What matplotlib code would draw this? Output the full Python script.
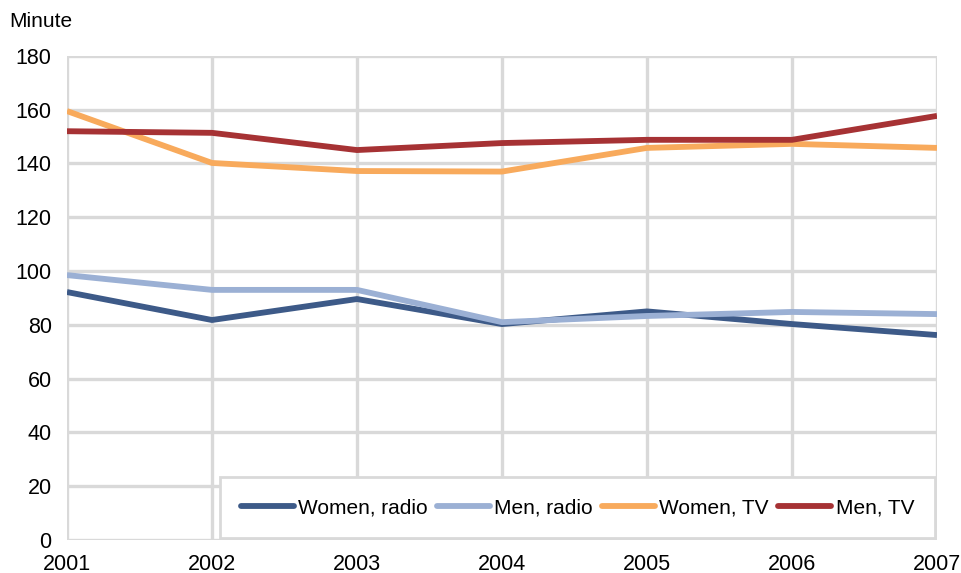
import matplotlib.pyplot as plt

plt.rcParams['font.family'] = ['Liberation Sans', 'DejaVu Sans']

years = [2001, 2002, 2003, 2004, 2005, 2006, 2007]
women_radio = [92.2, 81.8, 89.6, 80.3, 85.0, 80.3, 76.2]
men_radio = [98.5, 93.0, 93.0, 81.0, 83.3, 84.8, 84.0]
women_tv = [159.5, 140.2, 137.2, 137.0, 145.8, 147.3, 145.8]
men_tv = [152.0, 151.4, 145.0, 147.6, 148.8, 148.8, 157.7]

series = [
    ('Women, radio', women_radio, '#3d5a88'),
    ('Men, radio', men_radio, '#9bb0d4'),
    ('Women, TV', women_tv, '#f8aa5c'),
    ('Men, TV', men_tv, '#a63234'),
]

fig = plt.figure(figsize=(9.62, 5.73), dpi=100)
ax = fig.add_axes([0.0696, 0.0576, 0.9044, 0.8448])

for name, vals, col in series:
    ax.plot(years, vals, color=col, lw=4.2, label=name, solid_capstyle='butt', zorder=3)

ax.set_xlim(2001, 2007)
ax.set_ylim(0, 180)
ax.set_xticks(years)
ax.set_yticks(range(0, 181, 20))
ax.grid(True, color='#d9d9d9', lw=2.4, zorder=0)
for s in ax.spines.values():
    s.set_visible(False)
ax.tick_params(length=0, labelsize=15.5)
ax.tick_params(axis='x', pad=10)
ax.tick_params(axis='y', pad=11)

fig.text(0.010, 0.962, 'Minute', fontsize=15, va='center')

leg = ax.legend(loc='lower right', bbox_to_anchor=(1.0, 0.0), ncol=4, frameon=True,
                fancybox=False, fontsize=15, handlelength=2.55, handletextpad=0.2,
                columnspacing=0.45, borderpad=1.0, borderaxespad=0.1)
leg.get_frame().set_edgecolor('#d9d9d9')
leg.get_frame().set_linewidth(2)
leg.get_frame().set_facecolor('white')
leg.get_frame().set_alpha(1)
for h in leg.get_lines():
    h.set_solid_capstyle('round')

fig.savefig('out.png', dpi=100)
